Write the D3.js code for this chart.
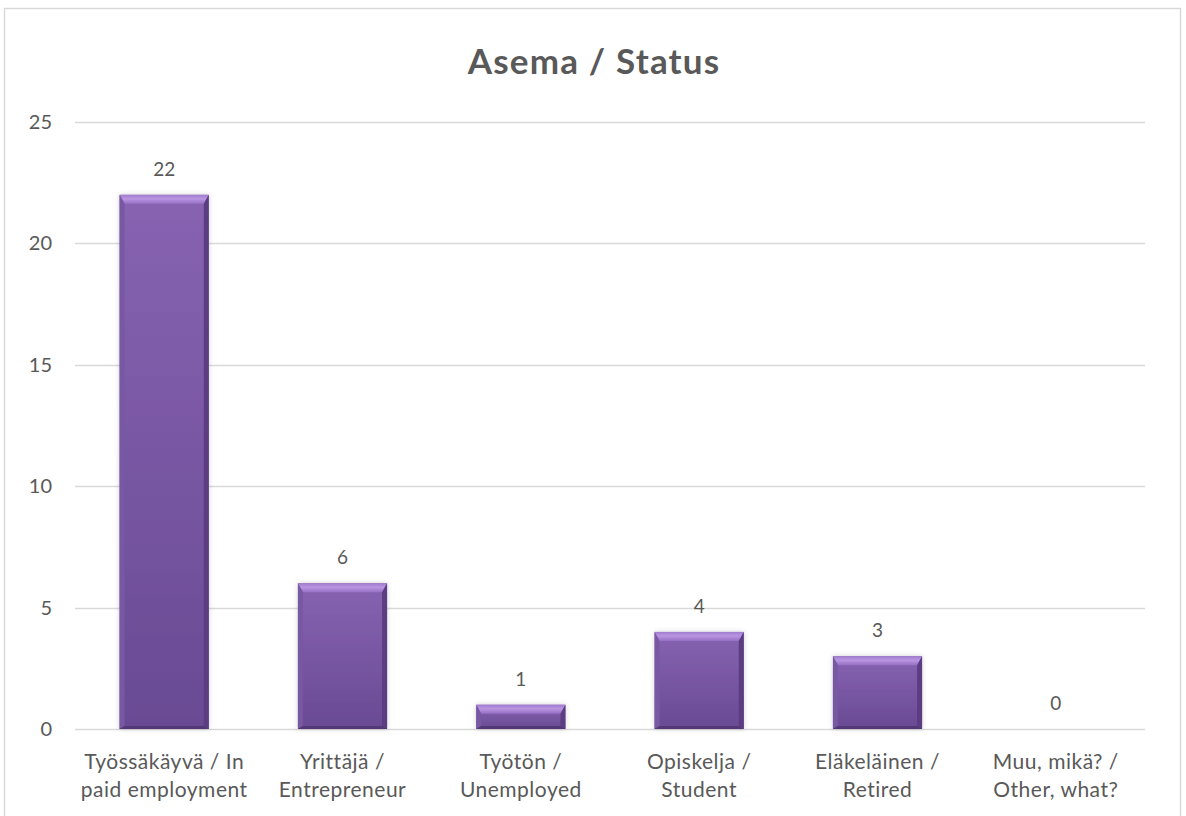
<!DOCTYPE html>
<html>
<head>
<meta charset="utf-8">
<script src="https://cdn.jsdelivr.net/npm/d3@7/dist/d3.min.js"></script>
<style>
  html, body { margin: 0; padding: 0; background: #fff; }
  svg { display: block; }
  text { font-family: Lato, "Open Sans", sans-serif; fill: #595959; }
</style>
</head>
<body>
<svg id="chart" width="1186" height="816"></svg>
<script>
// Survey answers: employment status
const categories = [
  ["Työssäkäyvä / In", "paid employment"],
  ["Yrittäjä /", "Entrepreneur"],
  ["Työtön /", "Unemployed"],
  ["Opiskelja /", "Student"],
  ["Eläkeläinen /", "Retired"],
  ["Muu, mikä? /", "Other, what?"]
];
const counts = [22, 6, 1, 4, 3, 0];
const yTicks = [0, 5, 10, 15, 20, 25];
const title = "Asema / Status";

const svg = d3.select("#chart");
const plot = { left: 75, right: 1145, top: 122, bottom: 729 };

// chart frame
svg.append("rect")
  .attr("x", 4.5).attr("y", 8.5)
  .attr("width", 1176).attr("height", 830)
  .attr("fill", "#fff").attr("stroke", "#d9d9d9").attr("stroke-width", 1.5);

const x = d3.scaleBand()
  .domain(d3.range(categories.length))
  .range([plot.left, plot.right])
  .paddingInner(0.5).paddingOuter(0.25);

const y = d3.scaleLinear().domain([0, 25]).range([plot.bottom, plot.top]);

// gridlines
svg.append("g").selectAll("line").data(yTicks).join("line")
  .attr("x1", plot.left).attr("x2", plot.right)
  .attr("y1", d => Math.round(y(d)) + 0.5).attr("y2", d => Math.round(y(d)) + 0.5)
  .attr("stroke", "#d9d9d9").attr("stroke-width", 1.3);

// y axis labels
const yAxis = d3.axisLeft(y).tickValues(yTicks).tickSize(0).tickPadding(0);
const gy = svg.append("g").attr("transform", `translate(52,0)`).call(yAxis);
gy.select(".domain").remove();
gy.selectAll("text").attr("font-size", 20).attr("fill", "#595959")
  .style("font-family", "Lato, 'Open Sans', sans-serif").attr("text-anchor", "end");

// gradients for bevelled bars
const defs = svg.append("defs");
const body = defs.append("linearGradient").attr("id", "barBody")
  .attr("x1", 0).attr("y1", 0).attr("x2", 0).attr("y2", 1);
body.append("stop").attr("offset", "0%").attr("stop-color", "#8763b2");
body.append("stop").attr("offset", "100%").attr("stop-color", "#694a93");

const topBevel = defs.append("linearGradient").attr("id", "barTop")
  .attr("x1", 0).attr("y1", 0).attr("x2", 0).attr("y2", 1);
topBevel.append("stop").attr("offset", "0%").attr("stop-color", "#a07cce");
topBevel.append("stop").attr("offset", "45%").attr("stop-color", "#b995e2");
topBevel.append("stop").attr("offset", "100%").attr("stop-color", "#9670c4");

const shadow = defs.append("filter").attr("id", "barShadow")
  .attr("x", "-20%").attr("y", "-20%").attr("width", "140%").attr("height", "140%");
shadow.append("feDropShadow").attr("dx", 0).attr("dy", 0).attr("stdDeviation", 2.5)
  .attr("flood-color", "#000").attr("flood-opacity", 0.18);

const bevelTop = 9, bevelSide = 5, bevelBottom = 3;

const barG = svg.append("g");
counts.forEach((v, i) => {
  if (v <= 0) return;
  const x0 = x(i), x1 = x(i) + x.bandwidth();
  const y0 = y(v), y1 = y(0);
  const g = barG.append("g").attr("filter", "url(#barShadow)");
  g.append("rect").attr("x", x0).attr("y", y0).attr("width", x1 - x0).attr("height", y1 - y0)
    .attr("fill", "url(#barBody)");
  // top bevel (light)
  g.append("polygon")
    .attr("points", [[x0, y0], [x1, y0], [x1 - bevelSide, y0 + bevelTop], [x0 + bevelSide, y0 + bevelTop]].join(" "))
    .attr("fill", "url(#barTop)");
  // left bevel
  g.append("polygon")
    .attr("points", [[x0, y0], [x0 + bevelSide, y0 + bevelTop], [x0 + bevelSide, y1 - bevelBottom], [x0, y1]].join(" "))
    .attr("fill", "#7858a3");
  // right bevel (dark)
  g.append("polygon")
    .attr("points", [[x1, y0], [x1 - bevelSide, y0 + bevelTop], [x1 - bevelSide, y1 - bevelBottom], [x1, y1]].join(" "))
    .attr("fill", "#5b3e82");
  // bottom bevel
  g.append("polygon")
    .attr("points", [[x0, y1], [x0 + bevelSide, y1 - bevelBottom], [x1 - bevelSide, y1 - bevelBottom], [x1, y1]].join(" "))
    .attr("fill", "#533877");
});

// value labels
svg.append("g").selectAll("text").data(counts).join("text")
  .attr("x", (d, i) => x(i) + x.bandwidth() / 2)
  .attr("y", d => y(d) - 19)
  .attr("text-anchor", "middle")
  .attr("font-size", 19)
  .text(d => d);

// category labels
const cat = svg.append("g").selectAll("text").data(categories).join("text")
  .attr("text-anchor", "middle")
  .attr("font-size", 21)
  .attr("letter-spacing", 0.5);
cat.each(function (lines, i) {
  const t = d3.select(this);
  lines.forEach((ln, k) => {
    t.append("tspan").attr("x", x(i) + x.bandwidth() / 2).attr("y", 769 + k * 28).text(ln);
  });
});

// title
svg.append("text")
  .attr("x", 594).attr("y", 74)
  .attr("text-anchor", "middle")
  .attr("font-size", 35).attr("font-weight", "bold")
  .attr("letter-spacing", 1.2)
  .text(title);
</script>
</body>
</html>
